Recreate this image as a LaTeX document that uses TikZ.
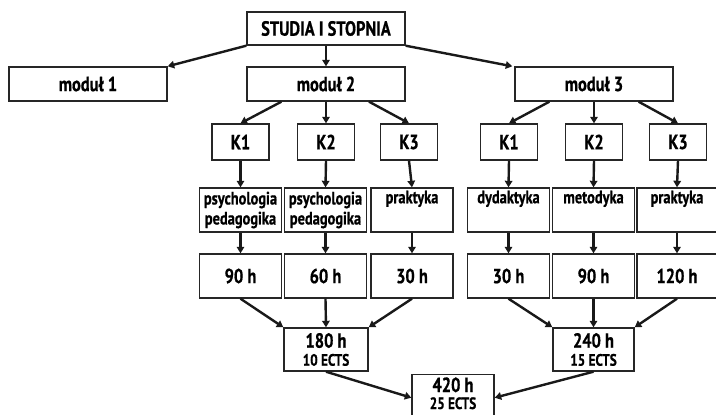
\documentclass[tikz,border=0pt]{standalone}
\usepackage{fontspec}
\setmainfont{PT Sans Bold}[FakeStretch=0.8, FakeBold=0.6]
\usetikzlibrary{arrows.meta,calc}
\tikzset{
  box/.style={draw=black!85, line width=1.4pt, rectangle, inner sep=0pt, align=center, font=\fontsize{20.5}{21}\selectfont},
  small/.style={box, font=\fontsize{18}{20}\selectfont},
  arr/.style={line width=2.4pt, draw=black!90, -{Triangle[length=6.5pt,width=7.5pt]}},
}
\newcommand{\ects}[1]{{\fontsize{16.5}{15}\selectfont #1}}
\begin{document}
\begin{tikzpicture}[x=1pt,y=-1pt]
\useasboundingbox (0,0) rectangle (716,415);
% level 0
\node[box, minimum width=158pt, minimum height=33pt] (top) at (326,28.5) {STUDIA I STOPNIA};
% level 1
\node[box, minimum width=158pt, minimum height=34pt] (m1) at (88,84) {moduł 1};
\node[box, minimum width=158pt, minimum height=34pt] (m2) at (326,84) {moduł 2};
\node[box, minimum width=158pt, minimum height=34pt] (m3) at (594,84) {moduł 3};
% K boxes
\node[box, minimum width=57pt, minimum height=36pt] (ka) at (240.5,142) {K1};
\node[box, minimum width=57pt, minimum height=36pt] (kb) at (326,142) {K2};
\node[box, minimum width=57pt, minimum height=36pt] (kc) at (409,142) {K3};
\node[box, minimum width=57pt, minimum height=36pt] (kd) at (509,142) {K1};
\node[box, minimum width=57pt, minimum height=36pt] (ke) at (594,142) {K2};
\node[box, minimum width=57pt, minimum height=36pt] (kf) at (678,142) {K3};
% subjects
\node[small, minimum width=82pt, minimum height=44pt] (sa) at (240.5,210) {psychologia\\pedagogika};
\node[small, minimum width=82pt, minimum height=44pt] (sb) at (325.5,210) {psychologia\\pedagogika};
\node[small, minimum width=82pt, minimum height=44pt] (sc) at (412,210) {praktyka\\\strut};
\node[small, minimum width=82pt, minimum height=44pt] (sd) at (508.5,210) {dydaktyka\\\strut};
\node[small, minimum width=82pt, minimum height=44pt] (se) at (593.5,210) {metodyka\\\strut};
\node[small, minimum width=80pt, minimum height=44pt] (sf) at (677,210) {praktyka\\\strut};
% hours
\node[box, minimum width=82pt, minimum height=44pt] (ha) at (240.5,276) {90 h};
\node[box, minimum width=82pt, minimum height=44pt] (hb) at (325.5,276) {60 h};
\node[box, minimum width=82pt, minimum height=44pt] (hc) at (412,276) {30 h};
\node[box, minimum width=82pt, minimum height=44pt] (hd) at (508.5,276) {30 h};
\node[box, minimum width=82pt, minimum height=44pt] (he) at (593.5,276) {90 h};
\node[box, minimum width=80pt, minimum height=44pt] (hf) at (677,276) {120 h};
% sums
\node[box, minimum width=84pt, minimum height=43pt] (sum1) at (326,349.5) {180 h\\[-3pt]\ects{10 ECTS}};
\node[box, minimum width=81pt, minimum height=43pt] (sum2) at (593.5,349.5) {240 h\\[-3pt]\ects{15 ECTS}};
\node[box, minimum width=82pt, minimum height=46pt, text depth=9pt, anchor=north] (tot) at (453,374) {420 h\\[-4pt]\ects{25 ECTS}};
% arrows
\draw[arr] (top.south west) -- (m1.north east);
\draw[arr] (top.south) -- (m2.north);
\draw[arr] (top.south east) -- ($(m3.north west)+(-2,0)$);
\draw[arr] ($(m2.south west)!0.22!(m2.south east)$) -- (ka.north);
\draw[arr] (m2.south) -- (kb.north);
\draw[arr] ($(m2.south west)!0.77!(m2.south east)$) -- (kc.north);
\draw[arr] ($(m3.south west)!0.22!(m3.south east)$) -- (kd.north);
\draw[arr] (m3.south) -- (ke.north);
\draw[arr] ($(m3.south west)!0.78!(m3.south east)$) -- (kf.north);
\foreach \k/\s in {ka/sa,kb/sb,kc/sc,kd/sd,ke/se,kf/sf}{
  \draw[arr] (\k.south) -- (\s.north);
}
\foreach \s/\h in {sa/ha,sb/hb,sc/hc,sd/hd,se/he,sf/hf}{
  \draw[arr] (\s.south) -- (\h.north);
}
\draw[arr] (ha.south) -- (sum1.north west);
\draw[arr] (hb.south) -- (sum1.north);
\draw[arr] (hc.south) -- (sum1.north east);
\draw[arr] (hd.south) -- (sum2.north west);
\draw[arr] (he.south) -- (sum2.north);
\draw[arr] (hf.south) -- (sum2.north east);
\draw[arr] (sum1.south) -- (tot.west);
\draw[arr] (sum2.south) -- (tot.east);
\end{tikzpicture}
\end{document}
